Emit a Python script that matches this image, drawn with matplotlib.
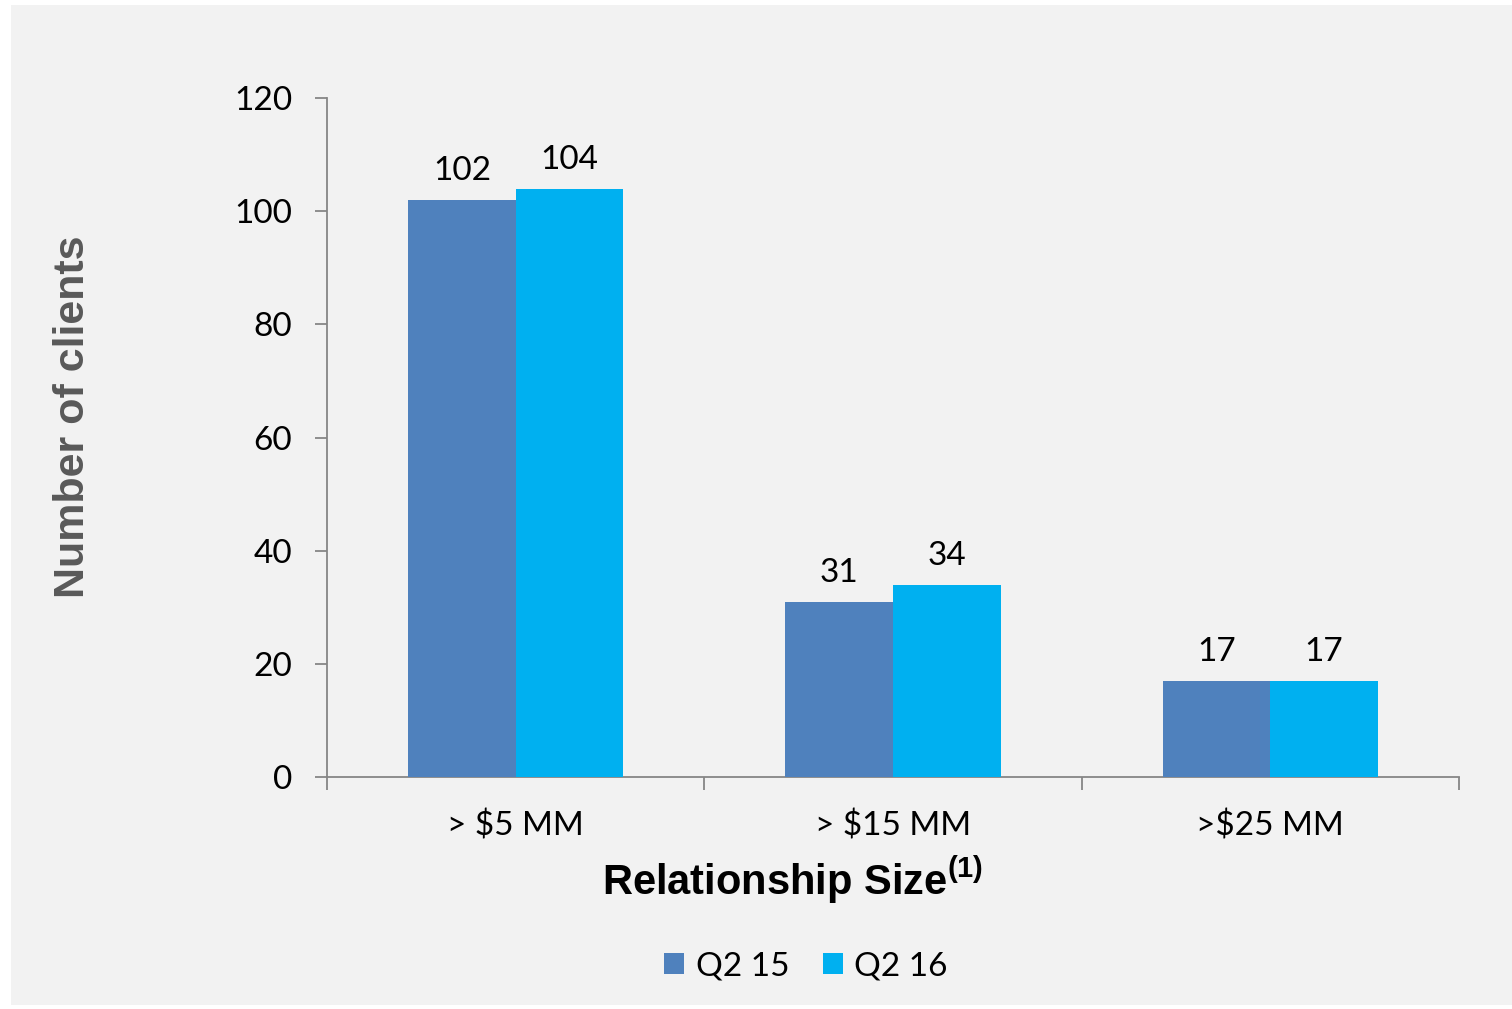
import numpy as np
import matplotlib.pyplot as plt
from matplotlib.patches import Rectangle

categories = ['> $5 MM', '> $15 MM', '>$25 MM']
series_names = ['Q2 15', 'Q2 16']
q2_15 = [102, 31, 17]
q2_16 = [104, 34, 17]
yticks = [0, 20, 40, 60, 80, 100, 120]

colors = ['#4f81bd', '#00b0f0']
bg = '#f2f2f2'
axis_col = '#868686'

plt.rcParams['font.family'] = ['Lato', 'DejaVu Sans']
plt.rcParams['mathtext.fontset'] = 'custom'
plt.rcParams['mathtext.bf'] = 'Liberation Sans:bold'
plt.rcParams['mathtext.rm'] = 'Liberation Sans:bold'

fig = plt.figure(figsize=(15.12, 10.09), dpi=100)
fig.patch.set_facecolor('white')
# grey panel behind everything
fig.add_artist(Rectangle((11/1512, 0.004), 1 - 11/1512, 1 - 5/1009 - 0.004,
                         transform=fig.transFigure, facecolor=bg, edgecolor='none', zorder=-10))

ax = fig.add_axes([327/1512, 1 - 777/1009, (1459-327)/1512, (777-98)/1009])
ax.set_facecolor(bg)

fs = 24
x = np.arange(len(categories))
w = 0.285
b1 = ax.bar(x - w/2, q2_15, w, color=colors[0], label=series_names[0], zorder=3)
b2 = ax.bar(x + w/2, q2_16, w, color=colors[1], label=series_names[1], zorder=3)
for bars, vals in ((b1, q2_15), (b2, q2_16)):
    for r, v in zip(bars, vals):
        ax.annotate(str(v), (r.get_x() + r.get_width()/2, v), xytext=(0, 10),
                    textcoords='offset points', ha='center', va='bottom', fontsize=fs)

ax.set_xlim(-0.5, len(categories) - 0.5)
ax.set_ylim(0, 120)
ax.set_yticks(yticks)
ax.set_xticks(x)
ax.set_xticklabels(categories)
ax.set_xticks(np.arange(len(categories) + 1) - 0.5, minor=True)
ax.tick_params(axis='x', which='major', length=0, pad=24, labelsize=fs)
ax.tick_params(axis='x', which='minor', length=9, color=axis_col, width=1.3)
ax.tick_params(axis='y', length=9, color=axis_col, width=1.3, pad=16, labelsize=fs)
for s in ['top', 'right']:
    ax.spines[s].set_visible(False)
for s in ['left', 'bottom']:
    ax.spines[s].set_color(axis_col)
    ax.spines[s].set_linewidth(1.3)

ax.set_xlabel(r'Relationship Size$^{\mathbf{(1)}}$', family='Liberation Sans',
              fontweight='bold', fontsize=30)
ax.xaxis.set_label_coords(0.411, -0.115)
ax.set_ylabel('Number of clients', family='Liberation Sans', fontweight='bold',
              fontsize=31, color='#595959')
ax.yaxis.set_label_coords(-0.207, 0.53)

fig.legend(handles=[b1, b2], labels=series_names, loc='center',
           bbox_to_anchor=(806/1512, 1 - 966/1009), ncol=2, frameon=False,
           fontsize=fs, handlelength=0.6, handleheight=0.6, handletextpad=0.35,
           columnspacing=1.0)

fig.savefig('out.png', dpi=100, facecolor=fig.get_facecolor())
